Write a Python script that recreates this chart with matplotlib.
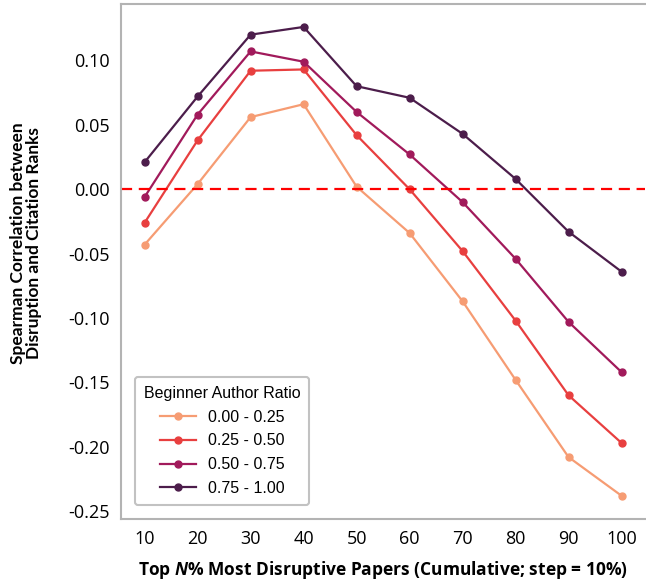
import matplotlib
matplotlib.use("Agg")
import matplotlib.pyplot as plt

# Data
top_n = [10, 20, 30, 40, 50, 60, 70, 80, 90, 100]
groups = ["0.00 - 0.25", "0.25 - 0.50", "0.50 - 0.75", "0.75 - 1.00"]
colors = ["#F69C73", "#E83F3F", "#A11A5B", "#4C1D4B"]

r_000_025 = [-0.043, 0.004, 0.056, 0.066, 0.002, -0.034, -0.087, -0.148, -0.208, -0.238]
r_025_050 = [-0.026, 0.038, 0.092, 0.093, 0.042, 0.000, -0.048, -0.102, -0.160, -0.197]
r_050_075 = [-0.006, 0.058, 0.107, 0.099, 0.060, 0.027, -0.010, -0.054, -0.103, -0.142]
r_075_100 = [0.021, 0.072, 0.120, 0.126, 0.080, 0.071, 0.043, 0.008, -0.033, -0.064]
series = [r_000_025, r_025_050, r_050_075, r_075_100]

plt.rcParams["font.family"] = ["Open Sans", "DejaVu Sans"]
plt.rcParams["mathtext.fontset"] = "custom"
plt.rcParams["mathtext.it"] = "Open Sans:italic:bold"
plt.rcParams["mathtext.rm"] = "Open Sans:bold"

fig = plt.figure(figsize=(6.46, 5.84), dpi=100)
ax = fig.add_axes([0.187, 0.111, 0.812, 0.883])

for vals, col, lab in zip(series, colors, groups):
    ax.plot(top_n, vals, color=col, lw=1.6, marker="o", ms=5, label=lab)

ax.axhline(0, color="red", lw=1.6, ls=(0, (5, 3)))

ax.set_xticks(top_n)
ax.set_yticks([0.10, 0.05, 0.00, -0.05, -0.10, -0.15, -0.20, -0.25])
ax.set_yticklabels(["0.10", "0.05", "0.00", "-0.05", "-0.10", "-0.15", "-0.20", "-0.25"])
ax.tick_params(length=0, labelsize=13, pad=8)

for side in ["left", "top", "bottom"]:
    ax.spines[side].set_color("#b3b3b3")
    ax.spines[side].set_linewidth(1.5)
ax.spines["right"].set_visible(False)

ax.set_ylabel("Spearman Correlation between\nDisruption and Citation Ranks",
              fontsize=12.5, fontweight="bold", linespacing=1.0,
              family=["Lato", "DejaVu Sans"])
ax.yaxis.set_label_coords(-0.150, 0.535)
ax.set_xlabel(r"Top $\mathit{N}$% Most Disruptive Papers (Cumulative; step = 10%)",
              fontsize=12.5, fontweight="bold", labelpad=8)

leg = ax.legend(title="Beginner Author Ratio", loc="lower left",
                prop={"family": "Liberation Sans", "size": 11.5},
                title_fontproperties={"family": "Liberation Sans", "size": 11.5},
                handlelength=2.25, handletextpad=0.8, labelspacing=0.55,
                borderpad=0.55, borderaxespad=0.9, fancybox=True)
leg.get_frame().set_edgecolor("#b3b3b3")
leg.get_frame().set_linewidth(1.5)

fig.savefig("out.png", dpi=100)
